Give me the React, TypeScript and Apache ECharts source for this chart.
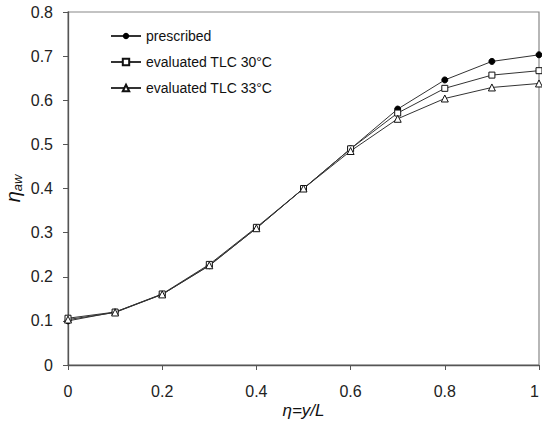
import React, { useEffect, useRef } from "react";
import * as echarts from "echarts";

const xValues = [0, 0.1, 0.2, 0.3, 0.4, 0.5, 0.6, 0.7, 0.8, 0.9, 1.0];
const prescribed = [0.1, 0.12, 0.16, 0.225, 0.31, 0.4, 0.49, 0.58, 0.646, 0.688, 0.703];
const tlc30 = [0.106, 0.12, 0.161, 0.228, 0.312, 0.4, 0.49, 0.571, 0.627, 0.657, 0.667];
const tlc33 = [0.103, 0.119, 0.16, 0.226, 0.31, 0.4, 0.485, 0.558, 0.604, 0.629, 0.638];
const seriesNames = ["prescribed", "evaluated TLC 30°C", "evaluated TLC 33°C"];

const pairs = (ys: number[]) => xValues.map((x, i) => [x, ys[i]]);

export default function App() {
  const ref = useRef<HTMLDivElement>(null);
  useEffect(() => {
    if (!ref.current) return;
    const chart = echarts.init(ref.current, null, { renderer: "svg" });
    const font = "'Liberation Sans', Arial, sans-serif";
    const lineStyle = { color: "#333", width: 1 };
    chart.setOption({
      animation: false,
      backgroundColor: "#fff",
      textStyle: { fontFamily: font },
      grid: {
        left: 68,
        right: 3,
        top: 12,
        bottom: 58,
        containLabel: false,
        outerBoundsMode: "none",
        show: true,
        borderColor: "#888",
        borderWidth: 1.2,
        backgroundColor: "transparent",
      },
      legend: {
        left: 105,
        top: 24,
        orient: "vertical",
        itemGap: 12,
        itemWidth: 30,
        itemHeight: 8,
        textStyle: { fontSize: 14, color: "#111", fontFamily: font },
        data: seriesNames,
      },
      xAxis: {
        type: "value",
        min: 0,
        max: 1,
        interval: 0.2,
        name: "η=y/L",
        nameLocation: "middle",
        nameGap: 37,
        nameMoveOverlap: false,
        nameTextStyle: { fontStyle: "italic", fontSize: 17, color: "#111", fontFamily: font },
        axisLine: { show: true, lineStyle: { color: "#555", width: 1.3 } },
        axisTick: { show: true, inside: false, length: 5, lineStyle: { color: "#555" } },
        axisLabel: {
          fontSize: 16,
          color: "#222",
          margin: 18,
          alignMaxLabel: "right",
          formatter: (v: number) => String(Number(v.toFixed(1))),
        },
        splitLine: { show: false },
      },
      yAxis: {
        type: "value",
        min: 0,
        max: 0.8,
        interval: 0.1,
        name: "{i|η}{s|aw}",
        nameLocation: "middle",
        nameGap: 44,
        nameMoveOverlap: false,
        nameTextStyle: {
          rich: {
            i: { fontStyle: "italic", fontSize: 20, color: "#111", fontFamily: font },
            s: { fontStyle: "italic", fontSize: 13, color: "#111", fontFamily: font, padding: [9, 0, 0, 0] },
          },
        },
        axisLine: { show: true, lineStyle: { color: "#555", width: 1.3 } },
        axisTick: { show: true, inside: false, length: 5, lineStyle: { color: "#555" } },
        axisLabel: { fontSize: 16, color: "#222", margin: 15, formatter: (v: number) => String(Number(v.toFixed(1))) },
        splitLine: { show: false },
      },
      series: [
        {
          name: seriesNames[0],
          type: "line",
          data: pairs(prescribed),
          symbol: "circle",
          symbolSize: 6,
          itemStyle: { color: "#000", borderColor: "#000" },
          lineStyle,
        },
        {
          name: seriesNames[1],
          type: "line",
          data: pairs(tlc30),
          symbol: "rect",
          symbolSize: 6,
          itemStyle: { color: "#fff", borderColor: "#111", borderWidth: 1 },
          lineStyle,
        },
        {
          name: seriesNames[2],
          type: "line",
          data: pairs(tlc33),
          symbol: "triangle",
          symbolSize: 7,
          itemStyle: { color: "#fff", borderColor: "#111", borderWidth: 1 },
          lineStyle,
        },
      ],
    });
    return () => chart.dispose();
  }, []);
  return <div ref={ref} style={{ width: 542, height: 423, position: "absolute", left: 0, top: 0 }} />;
}
